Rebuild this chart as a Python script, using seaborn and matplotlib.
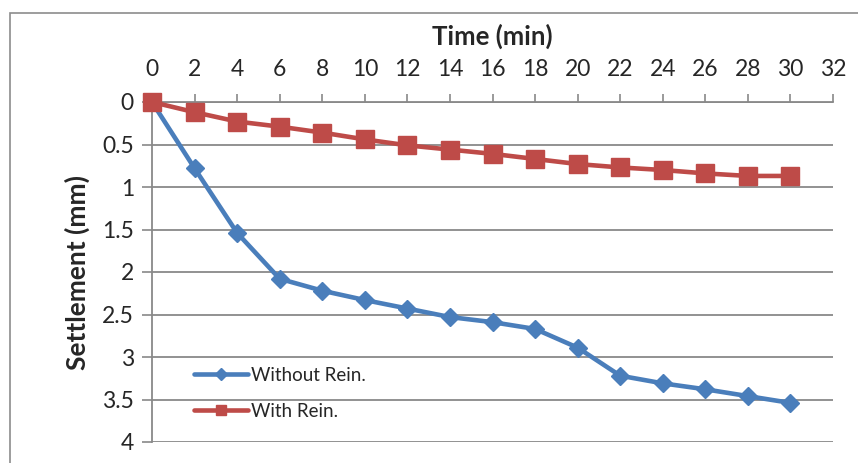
import matplotlib
matplotlib.use("Agg")
import matplotlib.pyplot as plt
import seaborn as sns
import pandas as pd
from matplotlib.lines import Line2D
from matplotlib.patches import Rectangle
from matplotlib.ticker import FuncFormatter

time_min = [0, 2, 4, 6, 8, 10, 12, 14, 16, 18, 20, 22, 24, 26, 28, 30]
without_rein = [0, 0.78, 1.54, 2.08, 2.22, 2.33, 2.43, 2.53, 2.59, 2.67, 2.89, 3.22, 3.31, 3.38, 3.46, 3.54]
with_rein = [0, 0.12, 0.23, 0.29, 0.36, 0.44, 0.51, 0.56, 0.61, 0.67, 0.73, 0.77, 0.80, 0.84, 0.87, 0.87]
series_names = ["Without Rein.", "With Rein."]
x_ticks = list(range(0, 33, 2))
y_ticks = [0, 0.5, 1, 1.5, 2, 2.5, 3, 3.5, 4]

sns.set_theme(style="white")
plt.rcParams["font.family"] = ["Lato", "DejaVu Sans"]

blue = "#4A7EBB"
red = "#BE4B48"
grid_c = "#898989"

df = pd.DataFrame({
    "Time": time_min * 2,
    "Settlement": without_rein + with_rein,
    "Series": [series_names[0]] * len(time_min) + [series_names[1]] * len(time_min),
})

fig = plt.figure(figsize=(8.58, 4.63), dpi=100)
ax = fig.add_axes([152 / 858, 1 - 442 / 463, (833 - 152) / 858, (442 - 102) / 463])

# outer chart border
fig.patches.append(Rectangle((10 / 858, -0.05), 1.0, 1 - 13 / 463 + 0.05, transform=fig.transFigure,
                             fill=False, edgecolor="#8C8C8C", linewidth=1.2))

styles = {series_names[0]: dict(color=blue, marker="D", ms=9.5),
          series_names[1]: dict(color=red, marker="s", ms=12.5)}

for name in series_names:
    sub = df[df["Series"] == name]
    st = styles[name]
    sns.lineplot(data=sub, x="Time", y="Settlement", ax=ax, color=st["color"], linewidth=3.3,
                 marker=st["marker"], markersize=st["ms"], markeredgecolor=st["color"],
                 markeredgewidth=1.0, legend=False, zorder=3, clip_on=False)

ax.set_xlim(0, 32)
ax.set_ylim(4, 0)
ax.set_xticks(x_ticks)
ax.set_yticks(y_ticks)
ax.yaxis.set_major_formatter(FuncFormatter(lambda v, p: f"{v:g}"))
ax.xaxis.tick_top()
ax.xaxis.set_label_position("top")

ax.set_xlabel("Time (min)", fontsize=18.5, fontweight="bold", labelpad=10)
ax.set_ylabel("Settlement (mm)", fontsize=19, fontweight="bold", labelpad=9)

ax.tick_params(axis="x", which="major", direction="out", length=6, width=1.2, color=grid_c,
               labelsize=16.5, pad=10, top=True, bottom=False)
ax.tick_params(axis="y", which="major", direction="out", length=7, width=1.2, color=grid_c,
               labelsize=16.5, pad=6, left=True)

ax.grid(axis="y", color=grid_c, linewidth=1.3)
ax.grid(axis="x", visible=False)
ax.set_axisbelow(True)
for s in ["right", "bottom"]:
    ax.spines[s].set_visible(False)
for s in ["top", "left"]:
    ax.spines[s].set_color(grid_c)
    ax.spines[s].set_linewidth(1.3)

handles = [Line2D([0], [0], color=blue, lw=3.3, marker="D", ms=6.5, markeredgecolor=blue),
           Line2D([0], [0], color=red, lw=3.3, marker="s", ms=7.5, markeredgecolor=red)]
ax.legend(handles, series_names, loc="lower left", bbox_to_anchor=(0.037, 0.016), frameon=False,
          fontsize=13.5, handlelength=2.9, handletextpad=0.15, labelspacing=1.0)

fig.savefig("out.png", dpi=100)
